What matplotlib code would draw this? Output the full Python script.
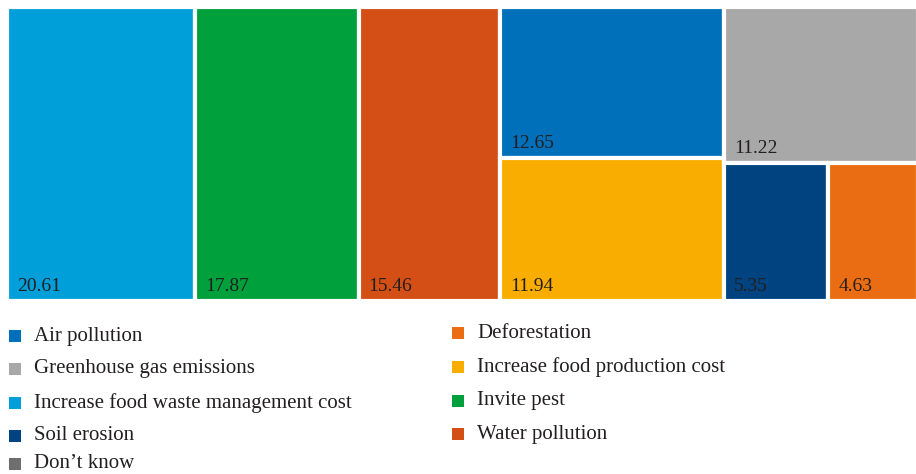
import matplotlib.pyplot as plt
from matplotlib.patches import Rectangle

plt.rcParams['font.family'] = ['Liberation Serif', 'DejaVu Serif']

# data
labels = ["Air pollution", "Greenhouse gas emissions", "Increase food waste management cost",
          "Soil erosion", "Don\u2019t know", "Deforestation", "Increase food production cost",
          "Invite pest", "Water pollution"]
values = [12.65, 11.22, 20.61, 5.35, None, 4.63, 11.94, 17.87, 15.46]
colors = ["#0070BA", "#A8A8A8", "#009FDA", "#004381", "#6E6E6E",
          "#EB6D13", "#F8AD00", "#00A03C", "#D34F16"]

# treemap columns: each column is a list of rows, each row a list of label indexes
columns = [[[2]], [[7]], [[8]], [[0], [6]], [[1], [3, 5]]]

W, H = 916, 474
fig = plt.figure(figsize=(W / 100, H / 100), dpi=100)
ax = fig.add_axes([7 / W, 1 - 301 / H, 911 / W, 294 / H])

total = sum(v for v in values if v is not None)
ax.set_xlim(0, total)
ax.set_ylim(1, 0)
ax.axis('off')

x = 0
for col in columns:
    col_sum = sum(values[i] for row in col for i in row)
    y = 0
    for row in col:
        row_sum = sum(values[i] for i in row)
        h = row_sum / col_sum
        rx = x
        for i in row:
            w = col_sum * values[i] / row_sum
            ax.add_patch(Rectangle((rx, y), w, h, facecolor=colors[i],
                                   edgecolor='white', linewidth=3.0))
            ax.annotate(f"{values[i]:.2f}", xy=(rx, y + h), xytext=(10, 10),
                        textcoords='offset pixels', ha='left', va='baseline',
                        fontsize=14, color='#231F20')
            rx += w
        y += h
    x += col_sum

# legend, two columns drawn by hand
left_y = [336, 369, 403, 436, 464]
right_y = [333, 367, 401, 434]
for k, (lab, c) in enumerate(zip(labels, colors)):
    if k < len(left_y):
        mx, ty = 9, left_y[k]
    else:
        mx, ty = 452, right_y[k - len(left_y)]
    fig.patches.append(Rectangle((mx / W, 1 - (ty + 6) / H), 12 / W, 12 / H,
                                 transform=fig.transFigure, facecolor=c, edgecolor='none'))
    fig.text((mx + 25) / W, 1 - ty / H, lab, ha='left', va='center',
             fontsize=15, color='#231F20')

fig.savefig("out.png", dpi=100)
